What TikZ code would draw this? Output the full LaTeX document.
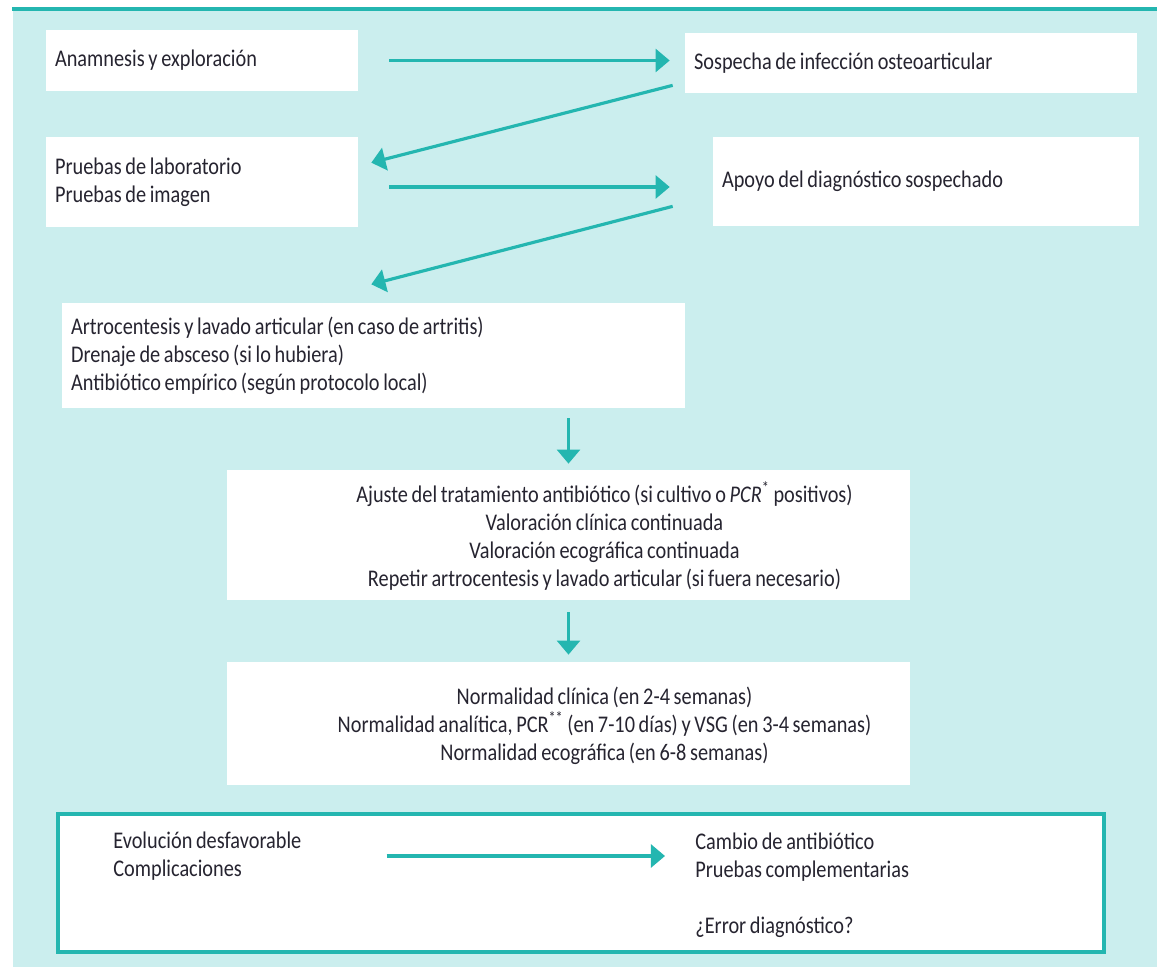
\documentclass[tikz,border=0pt]{standalone}
\usepackage{fontspec}
\setmainfont[FakeStretch=0.85, WordSpace=0.8]{Carlito}
\usetikzlibrary{arrows.meta}
\definecolor{osteoPanel}{RGB}{203,238,238}
\definecolor{osteoTeal}{RGB}{36,182,176}
\definecolor{osteoText}{RGB}{38,36,48}
\begin{document}
\begin{tikzpicture}[
  x=0.02cm, y=-0.02cm,
  osteotxt/.style = {inner sep=0pt, text=osteoText, font=\fontsize{13.6}{15.9}\selectfont},
  osteoizq/.style = {osteotxt, fill=white, inner xsep=0.18cm, align=flush left},
  osteocaja/.style = {fill=white, inner sep=0pt, minimum width=13.66cm},
  osteomarco/.style = {draw=osteoTeal, line width=2pt, fill=white},
  osteoflecha/.style = {osteoTeal, line width=1.8pt, -{Triangle[length=8pt, width=13pt]}}
]
  \useasboundingbox (0,0) rectangle (1157,967);
  % fondo
  \fill[white] (0,0) rectangle (1157,967);
  \fill[osteoPanel] (13,9) rectangle (1157,967);
  \draw[osteoTeal, line width=2.2pt] (12,9) -- (1157,9);
  % cajas
  \node[osteoizq, text width=5.88cm, minimum height=1.22cm] (anam) at (202,60.5)
    {Anamnesis y exploración};
  \node[osteoizq, text width=8.68cm, minimum height=1.2cm] (sosp) at (911,63)
    {Sospecha de infección osteoarticular};
  \node[osteoizq, text width=5.88cm, minimum height=1.8cm] (lab) at (202,182)
    {Pruebas de laboratorio\\Pruebas de imagen};
  \node[osteoizq, text width=8.16cm, minimum height=1.78cm] (apoyo) at (926,181.5)
    {Apoyo del diagnóstico sospechado};
  \node[osteoizq, text width=12.1cm, minimum height=2.1cm] (manejo) at (373.5,355.5)
    {Artrocentesis y lavado articular (en caso de artritis)\\
     Drenaje de absceso (si lo hubiera)\\
     Antibiótico empírico (según protocolo local)};
  \node[osteocaja, minimum height=2.6cm] (ajuste) at (568.5,535) {};
  \node[osteotxt, align=center] (ajusteTxt) at ([shift={(36,1)}]ajuste.center)
    {Ajuste del tratamiento antibiótico (si cultivo o \textit{PCR}\textsuperscript{*} positivos)\\
     Valoración clínica continuada\\
     Valoración ecográfica continuada\\
     Repetir artrocentesis y lavado articular (si fuera necesario)};
  \node[osteocaja, minimum height=2.46cm] (normal) at (568.5,723.5) {};
  \node[osteotxt, align=center] (normalTxt) at ([shift={(36,2)}]normal.center)
    {Normalidad clínica (en 2-4 semanas)\\
     Normalidad analítica, PCR\textsuperscript{**} (en 7-10 días) y VSG (en 3-4 semanas)\\
     Normalidad ecográfica (en 6-8 semanas)};
  % evolucion desfavorable
  \node[osteomarco, minimum width=20.92cm, minimum height=2.76cm] (marco) at (581,883) {};
  \node[osteotxt, anchor=west, align=left] (evol) at (113,856)
    {Evolución desfavorable\\Complicaciones};
  \node[osteotxt, anchor=west, align=left] (cambio) at (695,885)
    {Cambio de antibiótico\\Pruebas complementarias\\[15.9pt]¿Error diagnóstico?};
  % flechas
  \draw[osteoflecha, shorten <=0.62cm, shorten >=0.3cm] (anam.east) -- (anam.east -| sosp.west);
  \draw[osteoflecha] ([shift={(-12,-8)}]sosp.south west) -- ([shift={(13,26)}]lab.north east);
  \draw[osteoflecha, shorten <=0.62cm, shorten >=0.86cm] ([shift={(0,5)}]lab.east) -- ([shift={(0,5)}]lab.east -| apoyo.west);
  \draw[osteoflecha] ([shift={(-40,-20)}]apoyo.south west) -- ([shift={(13,57)}]lab.south east);
  \draw[osteoflecha, shorten <=0.2cm, shorten >=0.12cm] (manejo.south -| ajuste.north) -- (ajuste.north);
  \draw[osteoflecha, shorten <=0.24cm, shorten >=0.14cm] (ajuste.south) -- (normal.north);
  \draw[osteoflecha, shorten <=1.7cm, shorten >=0.6cm] (evol.east) -- (evol.east -| cambio.west);
\end{tikzpicture}
\end{document}
